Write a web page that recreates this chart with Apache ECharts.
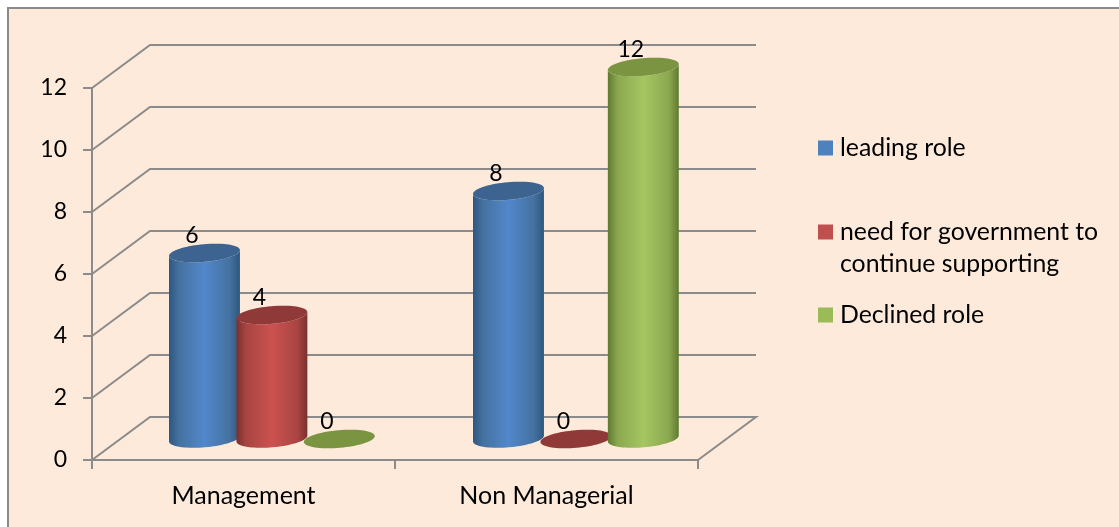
<!DOCTYPE html>
<html>
<head>
<meta charset="utf-8">
<style>html,body{margin:0;padding:0;background:#fff}#c{width:1119px;height:527px}</style>
<script src="https://cdn.jsdelivr.net/npm/echarts@6/dist/echarts.min.js"></script>
</head>
<body>
<div id="c"></div>
<script>
const categories = ['Management', 'Non Managerial'];
const leadingRole = [6, 8];
const needForGovernment = [4, 0];
const declinedRole = [0, 12];
const yTicks = [0, 2, 4, 6, 8, 10, 12];
const seriesNames = ['leading role', 'need for government to continue supporting', 'Declined role'];

const FONT = 'Lato';
const TEXT = '#000000';
const WALL = '#8b8b8b';
const DEPTH_X = 58, DEPTH_Y = -43;

function wallItem(params, api) {
  const cs = params.coordSys;
  const y = api.coord([0, api.value(0)])[1];
  const x0 = cs.x, x1 = cs.x + cs.width;
  const pts = [[x0, y], [x0 + DEPTH_X, y + DEPTH_Y], [x1 + DEPTH_X, y + DEPTH_Y]];
  if (api.value(0) === 0) pts.push([x1, y]);
  return {
    type: 'polyline',
    shape: { points: pts },
    style: { stroke: WALL, lineWidth: 2, fill: 'none' },
    silent: true
  };
}

function cylinderItem(slot, side, top, edge) {
  const sideFill = {
    type: 'linear', x: 0, y: 0, x2: 1, y2: 0,
    colorStops: [
      { offset: 0, color: edge[0] },
      { offset: 0.14, color: edge[1] },
      { offset: 0.5, color: side },
      { offset: 0.86, color: edge[1] },
      { offset: 1, color: edge[0] }
    ]
  };
  const A = 35.6, B = 8.8, T = -5 * Math.PI / 180;
  const ell = (cx, cy, t) => [
    cx + A * Math.cos(t) * Math.cos(T) - B * Math.sin(t) * Math.sin(T),
    cy + A * Math.cos(t) * Math.sin(T) + B * Math.sin(t) * Math.cos(T)
  ];
  return function (params, api) {
    const cat = api.value(0), val = api.value(1);
    const band = api.size([1, 0])[0];
    const base = api.coord([cat, 0]);
    const head = api.coord([cat, val]);
    const cx = base[0] + band * 0.0937 + slot * band * 0.2225 + cat;
    const by = base[1] - 21.5;
    const ty = head[1] - 21;
    const children = [];
    if (val > 0) {
      const pts = [];
      for (let i = 0; i <= 40; i++) pts.push(ell(cx, ty, -Math.PI * i / 40 + Math.PI));
      for (let i = 0; i <= 40; i++) pts.push(ell(cx, by, Math.PI * i / 40));
      children.push({
        type: 'polygon', shape: { points: pts },
        style: { fill: sideFill, stroke: 'none' }
      });
    }
    const topPts = [];
    for (let i = 0; i < 72; i++) topPts.push(ell(cx, ty, i * Math.PI / 36));
    children.push({
      type: 'polygon', shape: { points: topPts },
      style: { fill: top, stroke: 'none' }
    });
    children.push({
      type: 'text',
      x: cx - 12.5, y: ty - 17.5,
      style: {
        text: String(val), fill: TEXT, font: '23px ' + FONT,
        align: 'center', verticalAlign: 'middle'
      },
      z2: 10
    });
    return { type: 'group', children };
  };
}

function rows(values) { return values.map((v, i) => [i, v]); }

function makeLegend(name, top, text) {
  return {
    show: true, data: [name], left: 818, top, orient: 'vertical',
    icon: 'rect', itemWidth: 15, itemHeight: 15, selectedMode: false,
    padding: 0,
    formatter: () => text,
    textStyle: {
      fontFamily: FONT, fontSize: 24.8, color: TEXT, lineHeight: 32,
      padding: [0, 0, 0, 2]
    }
  };
}

const chart = echarts.init(document.getElementById('c'), null, { renderer: 'canvas' });
chart.setOption({
  animation: false,
  backgroundColor: '#ffffff',
  graphic: [{
    type: 'rect', z: -10, silent: true,
    shape: { x: 8, y: 8, width: 1130, height: 540 },
    style: { fill: '#FDEADA', stroke: '#8a8a8a', lineWidth: 2 }
  }],
  grid: { left: 92, top: 88, width: 606, height: 372, containLabel: false },
  legend: [
    makeLegend(seriesNames[0], 132, seriesNames[0]),
    makeLegend(seriesNames[1], 184, ' \nneed for government to\ncontinue supporting'),
    makeLegend(seriesNames[2], 299, seriesNames[2])
  ],
  xAxis: {
    type: 'category', data: categories,
    axisLine: { lineStyle: { color: WALL, width: 2 } },
    axisTick: { show: true, length: 9, alignWithLabel: false, lineStyle: { color: WALL, width: 2 } },
    axisLabel: { color: TEXT, fontFamily: FONT, fontSize: 25, margin: 23 },
    splitLine: { show: false }
  },
  yAxis: {
    type: 'value', min: 0, max: 12, interval: 2,
    axisLine: { show: true, lineStyle: { color: WALL, width: 2 } },
    axisTick: { show: true, length: 9, lineStyle: { color: WALL, width: 2 } },
    axisLabel: { color: TEXT, fontFamily: FONT, fontSize: 23, margin: 25, padding: [4, 0, 0, 0] },
    splitLine: { show: false }
  },
  series: [
    {
      type: 'custom', name: 'walls', data: yTicks.map(v => [v]), z: 1,
      renderItem: wallItem, silent: true, clip: false,
      encode: { y: 0 }
    },
    {
      type: 'custom', name: seriesNames[0], z: 2, clip: false,
      data: rows(leadingRole), itemStyle: { color: '#4F81BD' },
      encode: { x: 0, y: 1 },
      renderItem: cylinderItem(-1, '#5287CB', '#3D6491', ['#2F5680', '#44719F'])
    },
    {
      type: 'custom', name: seriesNames[1], z: 3, clip: false,
      data: rows(needForGovernment), itemStyle: { color: '#C0504D' },
      encode: { x: 0, y: 1 },
      renderItem: cylinderItem(0, '#CC524F', '#8F3A38', ['#7A302F', '#A84543'])
    },
    {
      type: 'custom', name: seriesNames[2], z: 4, clip: false,
      data: rows(declinedRole), itemStyle: { color: '#9BBB59' },
      encode: { x: 0, y: 1 },
      renderItem: cylinderItem(1, '#A5C660', '#7A9442', ['#5F7A30', '#8BA850'])
    }
  ]
});
</script>
</body>
</html>
